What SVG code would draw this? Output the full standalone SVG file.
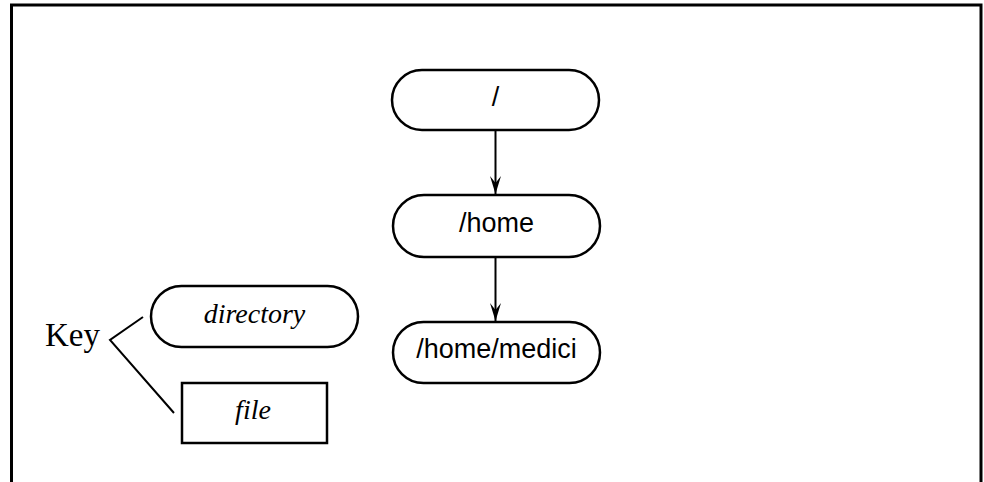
<svg xmlns="http://www.w3.org/2000/svg" width="984" height="482" viewBox="0 0 984 482">
  <style>
    .shape { fill: #fff; stroke: #000; stroke-width: 2.5; }
    .edge { fill: none; stroke: #000; stroke-width: 2; }
    .sans { font-family: "Liberation Sans", Arial, sans-serif; font-size: 27px; fill: #000; text-anchor: middle; }
    .serif { font-family: "Liberation Serif", "Times New Roman", serif; fill: #000; }
    .ital { font-style: italic; font-size: 28px; text-anchor: middle; }
  </style>
  <defs>
    <marker id="arrow" markerUnits="userSpaceOnUse" markerWidth="22" markerHeight="14" viewBox="-20 -7 22 14" refX="0" refY="0" orient="auto">
      <path d="M0,0 L-18,-5.5 L-11,0 L-18,5.5 Z" fill="#000"/>
    </marker>
  </defs>
  <rect width="984" height="482" fill="#fff"/>

  <!-- outer frame, open at the bottom -->
  <path d="M11.5,482 V5 H981 V482" fill="none" stroke="#000" stroke-width="3"/>

  <g id="connectors">
    <line class="edge" x1="495.5" y1="130" x2="495.5" y2="194" marker-end="url(#arrow)"/>
    <line class="edge" x1="495.5" y1="257" x2="495.5" y2="321" marker-end="url(#arrow)"/>
  </g>

  <g id="root">
    <rect class="shape" x="392" y="70" width="207" height="60" rx="30" ry="30"/>
    <text class="sans" x="495.5" y="106">/</text>
  </g>
  <g id="home">
    <rect class="shape" x="393" y="195" width="207" height="62" rx="31" ry="31"/>
    <text class="sans" x="496.5" y="232">/home</text>
  </g>
  <g id="medici">
    <rect class="shape" x="393" y="322" width="207" height="61" rx="30.5" ry="30.5"/>
    <text class="sans" x="496.5" y="358">/home/medici</text>
  </g>

  <g id="key">
    <text class="serif" x="45" y="346" font-size="33">Key</text>
    <path class="edge" d="M143,317 L110,340 L174,413"/>
  </g>
  <g id="key-directory">
    <rect class="shape" x="151" y="286" width="207" height="61" rx="30.5" ry="30.5"/>
    <text class="serif ital" x="254.5" y="323">directory</text>
  </g>
  <g id="key-file">
    <rect class="shape" x="182" y="383" width="145" height="60"/>
    <text class="serif ital" x="253" y="419">file</text>
  </g>
</svg>
